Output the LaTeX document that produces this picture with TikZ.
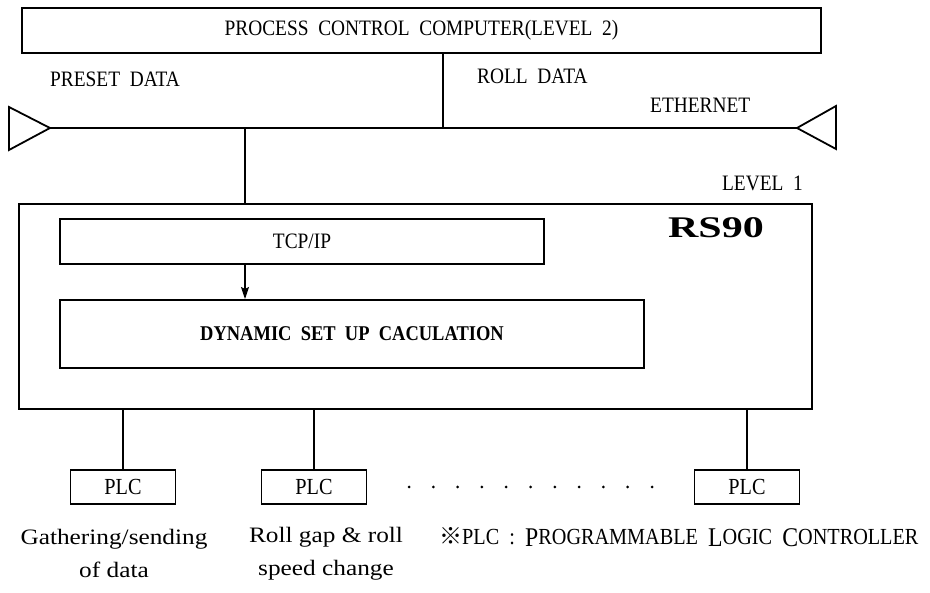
\documentclass[tikz,border=0pt]{standalone}
\usepackage{fontspec}
\setmainfont[FakeStretch=0.88,WordSpace=2]{Liberation Serif}
\newfontfamily\lowfont[FakeStretch=1.15]{Liberation Serif}
\newfontfamily\widefont[FakeStretch=1.4]{Liberation Serif}
\newfontfamily\markfont{Noto Sans CJK SC}
\usetikzlibrary{positioning,arrows.meta,calc}

\newcommand\capinit[1]{\raisebox{-2pt}{\fontsize{27}{27}\selectfont #1}}

\begin{document}
\begin{tikzpicture}[x=1pt,y=-1pt,
  hostbox/.style={rectangle,draw,line width=1.1pt,inner sep=0pt,font=\fontsize{22}{24}\selectfont},
  unitbox/.style={rectangle,draw,line width=1.1pt,inner sep=0pt},
  calcbox/.style={rectangle,draw,line width=2pt,inner sep=0pt,font=\fontsize{21}{24}\selectfont\bfseries},
  plcbox/.style={rectangle,draw,line width=1.1pt,inner sep=0pt,minimum width=105pt,minimum height=34pt,font=\fontsize{23}{24}\selectfont},
  lbl/.style={inner sep=0pt,font=\fontsize{22}{24}\selectfont},
  note/.style={inner sep=0pt,align=center,font=\lowfont\fontsize{22}{33}\selectfont},
  link/.style={line width=1.1pt},
  bus/.style={line width=2.8pt},
  term/.style={line width=1.8pt,line join=miter},
  arr/.style={-{Stealth[length=12pt,width=8pt,inset=2pt]},line width=1.1pt},
]
\useasboundingbox (0,0) rectangle (930,593);

% === level 2 ===
\node[hostbox,minimum width=799pt,minimum height=45pt] (pcc) at (421.5,30.5) {PROCESS CONTROL COMPUTER(LEVEL 2)};

\node[lbl,anchor=west] (preset) at (50,79) {PRESET DATA};
\node[lbl,anchor=west] (roll) at (477,76) {ROLL DATA};
\node[lbl,anchor=west] (eth) at (650,105) {ETHERNET};

% Ethernet bus with terminators
\coordinate (busL) at (50,128);
\coordinate (busR) at (797,128);
\draw[term] (busL) -- (9,107) -- (9,150) -- cycle;
\draw[term] (busR) -- (836,106) -- (836,149) -- cycle;
\draw[bus] (busL) -- (busR);

\coordinate (tapUp) at (443,128);
\coordinate (tapDn) at (245,128);
\draw[link] (pcc.south -| tapUp) -- (tapUp);

% === level 1 ===
\node[lbl,anchor=east] (lv1) at (803,183) {LEVEL 1};
\node[unitbox,minimum width=793pt,minimum height=205pt] (rs) at (415.5,306.5) {};
\node[inner sep=0pt,font={\fontsize{30}{32}\widefont\bfseries}] (rsname) at (716,228) {RS90};

\node[hostbox,minimum width=484pt,minimum height=45pt] (tcp) at (302,241.5) {TCP/IP};
\node[calcbox,minimum width=584pt,minimum height=68pt] (dsu) at (352,334) {DYNAMIC SET UP CACULATION};

\draw[link] (tapDn) -- (tapDn |- rs.north);
\draw[arr] (tcp.south -| tapDn) -- (dsu.north -| tapDn);

% PLCs
\node[plcbox] (plcA) at (123,487) {PLC};
\node[plcbox] (plcB) at (314,487) {PLC};
\node[plcbox] (plcN) at (747,487) {PLC};
\foreach \p in {plcA,plcB,plcN}
  \draw[link] (rs.south -| \p) -- (\p);
\foreach \i in {0,...,10}
  \fill (409+24.3*\i,487) circle (1.5pt);

\node[note] (noteA) at (114,553.5) {Gathering/sending\\of data};
\node[note] (noteB) at (326,553.5) {Roll gap \& roll\\speed change};
\node[lbl,anchor=west,font=\fontsize{23}{24}\selectfont] (legend) at (439,537) {{\markfont ※}PLC : \capinit{P}ROGRAMMABLE \capinit{L}OGIC \capinit{C}ONTROLLER};

\end{tikzpicture}
\end{document}
